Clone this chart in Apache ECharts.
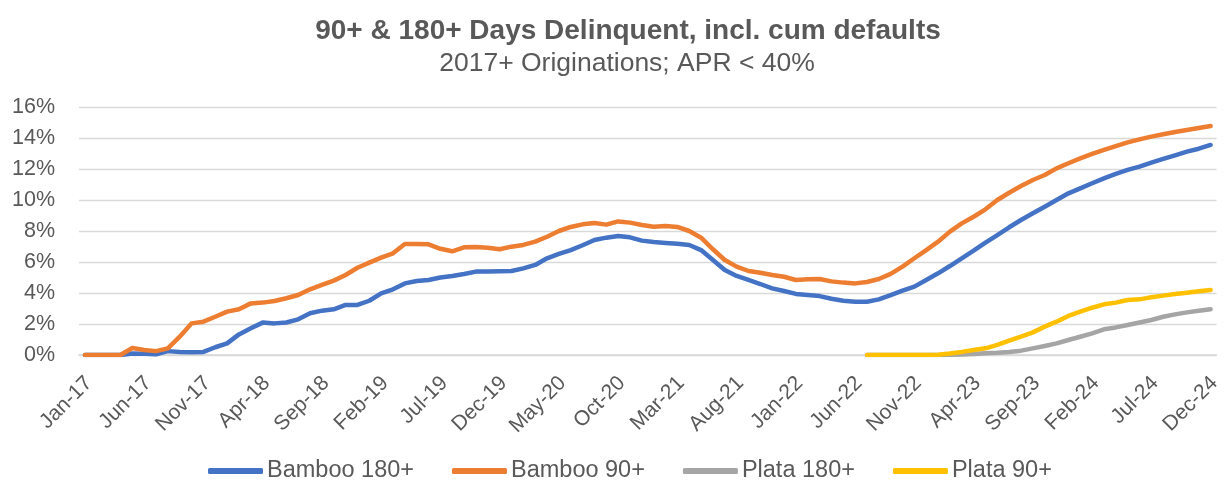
<!DOCTYPE html>
<html>
<head>
<meta charset="utf-8">
<script src="https://cdn.jsdelivr.net/npm/echarts@6/dist/echarts.min.js"></script>
<style>
  html, body { margin: 0; padding: 0; background: #fff; }
  #chart { width: 1224px; height: 481px; }
</style>
</head>
<body>
<div id="chart"></div>
<script>
// month categories, Jan-17 .. Dec-24
const months = [
  "Jan-17","Feb-17","Mar-17","Apr-17","May-17","Jun-17","Jul-17","Aug-17","Sep-17","Oct-17","Nov-17","Dec-17",
  "Jan-18","Feb-18","Mar-18","Apr-18","May-18","Jun-18","Jul-18","Aug-18","Sep-18","Oct-18","Nov-18","Dec-18",
  "Jan-19","Feb-19","Mar-19","Apr-19","May-19","Jun-19","Jul-19","Aug-19","Sep-19","Oct-19","Nov-19","Dec-19",
  "Jan-20","Feb-20","Mar-20","Apr-20","May-20","Jun-20","Jul-20","Aug-20","Sep-20","Oct-20","Nov-20","Dec-20",
  "Jan-21","Feb-21","Mar-21","Apr-21","May-21","Jun-21","Jul-21","Aug-21","Sep-21","Oct-21","Nov-21","Dec-21",
  "Jan-22","Feb-22","Mar-22","Apr-22","May-22","Jun-22","Jul-22","Aug-22","Sep-22","Oct-22","Nov-22","Dec-22",
  "Jan-23","Feb-23","Mar-23","Apr-23","May-23","Jun-23","Jul-23","Aug-23","Sep-23","Oct-23","Nov-23","Dec-23",
  "Jan-24","Feb-24","Mar-24","Apr-24","May-24","Jun-24","Jul-24","Aug-24","Sep-24","Oct-24","Nov-24","Dec-24"
];

// values in %
const bamboo180 = [
  0, 0, 0, 0, 0.1, 0.08, 0.05, 0.25, 0.2, 0.18,
  0.2, 0.5, 0.75, 1.33, 1.72, 2.09, 2.04, 2.1, 2.3, 2.69,
  2.86, 2.95, 3.23, 3.23, 3.5, 3.98, 4.24, 4.62, 4.77, 4.84,
  5.0, 5.1, 5.23, 5.38, 5.38, 5.4, 5.42, 5.59, 5.81, 6.24,
  6.52, 6.77, 7.08, 7.42, 7.57, 7.68, 7.59, 7.38, 7.29, 7.23,
  7.18, 7.1, 6.77, 6.13, 5.48, 5.1, 4.84, 4.58, 4.3, 4.13,
  3.94, 3.87, 3.8, 3.63, 3.5, 3.44, 3.44, 3.59, 3.87, 4.15,
  4.41, 4.84, 5.27, 5.74, 6.24, 6.73, 7.25, 7.74, 8.24, 8.71,
  9.14, 9.57, 10.0, 10.43, 10.75, 11.08, 11.4, 11.68, 11.94, 12.15,
  12.41, 12.65, 12.88, 13.12, 13.31, 13.55
];
const bamboo90 = [
  0, 0, 0, 0, 0.45, 0.32, 0.25, 0.43, 1.18, 2.04,
  2.15, 2.47, 2.8, 2.95, 3.33, 3.38, 3.48, 3.66, 3.87, 4.24,
  4.52, 4.8, 5.16, 5.63, 5.96, 6.28, 6.56, 7.16, 7.16, 7.14,
  6.85, 6.69, 6.95, 6.97, 6.92, 6.82, 6.99, 7.1, 7.31, 7.63,
  8.0, 8.26, 8.43, 8.52, 8.41, 8.62, 8.54, 8.39, 8.28, 8.32,
  8.26, 8.0, 7.57, 6.82, 6.13, 5.7, 5.42, 5.31, 5.16, 5.05,
  4.84, 4.88, 4.9, 4.75, 4.67, 4.62, 4.71, 4.9, 5.23, 5.7,
  6.24, 6.77, 7.31, 7.96, 8.49, 8.92, 9.4, 10.0, 10.47, 10.9,
  11.29, 11.61, 12.04, 12.37, 12.69, 12.97, 13.23, 13.48, 13.72, 13.91,
  14.09, 14.24, 14.39, 14.52, 14.65, 14.77
];
// Plata series start at Jul-22
const plataStart = 66;
const plata180 = [
  0, 0, 0, 0, 0, 0, 0, 0.02, 0.03, 0.07,
  0.12, 0.15, 0.2, 0.28, 0.43, 0.58, 0.75, 0.97, 1.18, 1.4,
  1.66, 1.78, 1.94, 2.1, 2.26, 2.47, 2.62, 2.75, 2.86, 2.95
];
const plata90 = [
  0, 0, 0, 0, 0, 0, 0.02, 0.1, 0.2, 0.32,
  0.43, 0.65, 0.92, 1.18, 1.46, 1.83, 2.15, 2.52, 2.8, 3.05,
  3.27, 3.38, 3.55, 3.59, 3.72, 3.83, 3.94, 4.02, 4.11, 4.19
];
const yTicks = [0, 2, 4, 6, 8, 10, 12, 14, 16];

const pad = (arr) => new Array(plataStart).fill(null).concat(arr);

const FONT = "'Liberation Sans', Arial, sans-serif";
const TXT = "#595959";
const GRIDC = "#d9d9d9";

const lineSeries = (name, data, color) => ({
  name,
  type: "line",
  data,
  showSymbol: false,
  symbol: "none",
  connectNulls: false,
  lineStyle: { color, width: 4.5, cap: "round", join: "round" },
  itemStyle: { color },
  animation: false,
});

const option = {
  animation: false,
  title: [
    {
      text: "90+ & 180+ Days Delinquent, incl. cum defaults",
      left: 623,
      top: 12,
      textAlign: "center",
      textStyle: { fontFamily: FONT, fontSize: 28, fontWeight: "bold", color: TXT },
    },
    {
      text: "2017+ Originations; APR < 40%",
      left: 622,
      top: 45,
      textAlign: "center",
      textStyle: { fontFamily: FONT, fontSize: 26.5, fontWeight: "normal", color: TXT },
    },
  ],
  legend: {
    left: 208,
    top: 459,
    padding: 0,
    itemWidth: 55,
    itemHeight: 6,
    itemGap: 38,
    icon: "roundRect",
    textStyle: { fontFamily: FONT, fontSize: 23.5, color: TXT, padding: [0, 0, 0, -1] },
    data: ["Bamboo 180+", "Bamboo 90+", "Plata 180+", "Plata 90+"],
  },
  grid: { left: 79, right: 0, top: 107, bottom: 126, containLabel: false },
  xAxis: {
    type: "category",
    data: months,
    boundaryGap: true,
    axisLine: { lineStyle: { color: GRIDC, width: 1.5 } },
    axisTick: { interval: 4, length: 6, lineStyle: { color: GRIDC, width: 1.5 } },
    axisLabel: {
      interval: 4,
      rotate: 45,
      margin: 14,
      verticalAlign: "top",
      padding: [0, 5, 0, 0],
      fontFamily: FONT,
      fontSize: 21,
      color: TXT,
    },
  },
  yAxis: {
    type: "value",
    min: yTicks[0],
    max: yTicks[yTicks.length - 1],
    interval: 2,
    axisLine: { show: false },
    axisTick: { show: false },
    splitLine: { lineStyle: { color: GRIDC, width: 1.3 } },
    axisLabel: {
      formatter: "{value}%",
      margin: 24,
      fontFamily: FONT,
      fontSize: 21.5,
      color: TXT,
    },
  },
  series: [
    lineSeries("Bamboo 180+", bamboo180, "#4472C4"),
    lineSeries("Bamboo 90+", bamboo90, "#ED7D31"),
    lineSeries("Plata 180+", pad(plata180), "#A5A5A5"),
    lineSeries("Plata 90+", pad(plata90), "#FFC000"),
  ],
};

const myChart = echarts.init(document.getElementById("chart"), null, { renderer: "canvas" });
myChart.setOption(option);
</script>
</body>
</html>
